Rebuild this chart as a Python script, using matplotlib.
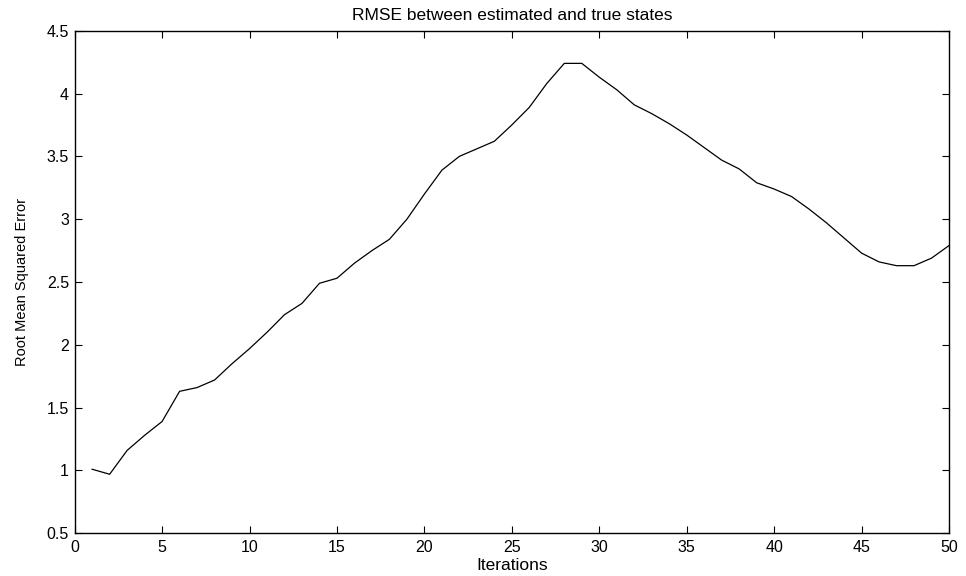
import matplotlib
matplotlib.use("Agg")
import matplotlib.pyplot as plt

iterations = list(range(1, 51))
rmse = [1.01, 0.97, 1.16, 1.28, 1.39, 1.63, 1.66, 1.72, 1.85, 1.97,
        2.10, 2.24, 2.33, 2.49, 2.53, 2.65, 2.75, 2.84, 3.00, 3.20,
        3.39, 3.50, 3.56, 3.62, 3.75, 3.89, 4.08, 4.24, 4.24, 4.13,
        4.03, 3.91, 3.84, 3.76, 3.67, 3.57, 3.47, 3.40, 3.29, 3.24,
        3.18, 3.08, 2.97, 2.85, 2.73, 2.66, 2.63, 2.63, 2.69, 2.79]

xticks = list(range(0, 51, 5))
yticks = [0.5, 1, 1.5, 2, 2.5, 3, 3.5, 4, 4.5]
ytick_labels = ["0.5", "1", "1.5", "2", "2.5", "3", "3.5", "4", "4.5"]

plt.rcParams['font.family'] = ['Liberation Sans', 'DejaVu Sans']

fig = plt.figure(figsize=(9.66, 5.76), dpi=100)
ax = fig.add_axes([0.0773, 0.0741, 0.9051, 0.8726])

ax.plot(iterations, rmse, color='black', linewidth=0.9)

ax.set_xlim(0, 50)
ax.set_ylim(0.5, 4.5)
ax.set_xticks(xticks)
ax.set_yticks(yticks)
ax.set_yticklabels(ytick_labels)
ax.tick_params(direction='in', top=True, right=True, length=5, width=0.8,
               labelsize=11.5)
ax.tick_params(axis='x', pad=5)
ax.tick_params(axis='y', pad=4)
for s in ax.spines.values():
    s.set_linewidth(1.0)

ax.set_title("RMSE between estimated and true states", fontsize=12.5, pad=8)
ax.set_xlabel("Iterations", fontsize=12.5, labelpad=2)
ax.set_ylabel("Root Mean Squared Error", fontsize=10.5, labelpad=13)

fig.savefig("out.png", dpi=100)
